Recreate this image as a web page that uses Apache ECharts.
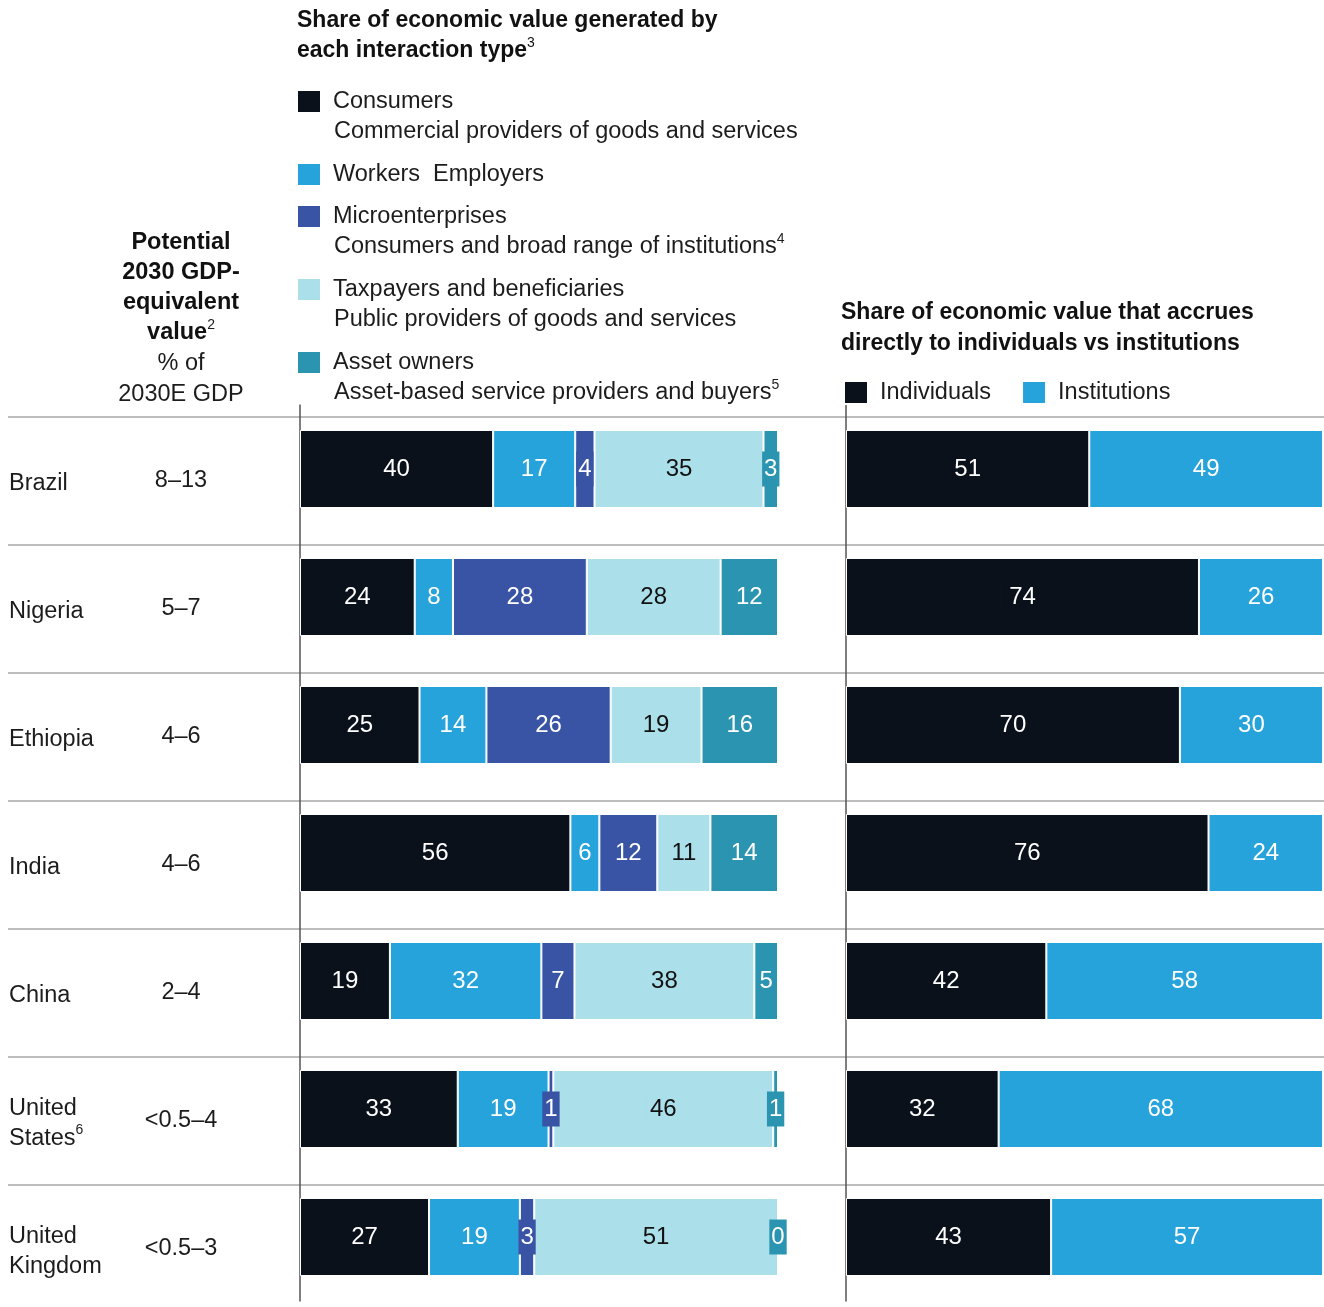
<!DOCTYPE html>
<html><head><meta charset="utf-8">
<script src="https://cdn.jsdelivr.net/npm/echarts@6/dist/echarts.min.js"></script>
<style>html,body{margin:0;padding:0;background:#fff}#c{width:1324px;height:1307px}</style>
</head><body><div id="c"></div>
<script>
// ---- data ----
const countries = ['Brazil','Nigeria','Ethiopia','India','China','United\nStates⁶','United\nKingdom'];
const gdpRanges = ['8–13','5–7','4–6','4–6','2–4','<0.5–4','<0.5–3'];
const interactionTypes = ['Consumers','Workers  Employers','Microenterprises','Taxpayers and beneficiaries','Asset owners'];
const interactionDesc = ['Commercial providers of goods and services','','Consumers and broad range of institutions⁴','Public providers of goods and services','Asset-based service providers and buyers⁵'];
const consumers   = [40,24,25,56,19,33,27];
const workers     = [17, 8,14, 6,32,19,19];
const micro       = [ 4,28,26,12, 7, 1, 3];
const taxpayers   = [35,28,19,11,38,46,51];
const assetOwners = [ 3,12,16,14, 5, 1, 0];
const accrualTypes = ['Individuals','Institutions'];
const individuals  = [51,74,70,76,42,32,43];
const institutions = [49,26,30,24,58,68,57];

// ---- style ----
const FONT = '"Liberation Sans", Arial, sans-serif';
const TXT = '#1c1c1c';
const FS = 23.5;
const colors = ['#0b111b','#27a3dc','#3954a4','#abdfea','#2b94b1'];
const labelColors = ['#fff','#fff','#fff','#111','#fff'];

const SUP = { '⁰':'0','¹':'1','²':'2','³':'3','⁴':'4','⁵':'5','⁶':'6','⁷':'7','⁸':'8','⁹':'9' };
const SUP_RE = /[⁰¹²³⁴⁵⁶⁷⁸⁹]/g;
const supify = (s, tag) => s.replace(SUP_RE, c => '{' + tag + '|' + SUP[c] + '}');

const leftValues = [consumers, workers, micro, taxpayers, assetOwners];
const rowSums = countries.map((_, j) => leftValues.reduce((s, arr) => s + arr[j], 0));

function barSeries(name, vals, color, lblColor, stack, axisIdx, sums) {
  return {
    type: 'bar', name, stack, xAxisIndex: axisIdx, yAxisIndex: axisIdx,
    barWidth: 78,
    data: vals.map((v, j) => ({ value: sums ? v / sums[j] * 100 : v, raw: v })),
    itemStyle: { color, borderColor: '#fff', borderWidth: 1 },
    label: {
      show: true, position: 'inside', color: lblColor, fontFamily: FONT, fontSize: 24,
      backgroundColor: color, padding: [8, 2, 3, 2],
      formatter: p => String(p.data.raw)
    },
    emphasis: { disabled: true },
    silent: true
  };
}

const series = [];
interactionTypes.forEach((n, i) => series.push(barSeries(n, leftValues[i], colors[i], labelColors[i], 'left', 0, rowSums)));
series.push(barSeries(accrualTypes[0], individuals, colors[0], '#fff', 'right', 1, null));
series.push(barSeries(accrualTypes[1], institutions, colors[1], '#fff', 'right', 1, null));

const legendCommon = {
  orient: 'horizontal', padding: 0, itemWidth: 24, itemHeight: 23, icon: 'rect',
  selectedMode: false,
  textStyle: { fontFamily: FONT, fontSize: FS, color: TXT, padding: [0, 0, 0, 7] }
};
const legendTops = [89, 162, 204, 277, 350];
const legends = interactionTypes.map((n, i) => Object.assign({}, legendCommon, { data: [n], left: 296, top: legendTops[i] }));
legends.push(Object.assign({}, legendCommon, { data: accrualTypes, left: 843, top: 380, itemGap: 30 }));

const descY = [132, null, 247, 320, 393];
const graphics = [];
interactionDesc.forEach((d, i) => {
  if (d) graphics.push({ type: 'text', x: 334, y: descY[i] - 15, silent: true,
    style: { text: supify(d, 's'), fontFamily: FONT, fontSize: FS, fill: TXT, lineHeight: 30,
      rich: { s: { fontFamily: FONT, fontSize: 14, lineHeight: 20, verticalAlign: 'top', fill: TXT } } } });
});
graphics.push({ type: 'text', x: 297, y: 6, silent: true,
  style: { text: '{b|Share of economic value generated by}\n{b|each interaction type}{s|3}',
    fontFamily: FONT, fill: '#111',
    rich: { b: { fontFamily: FONT, fontSize: 23, fontWeight: 'bold', lineHeight: 30, fill: '#111' },
            s: { fontFamily: FONT, fontSize: 14, lineHeight: 20, verticalAlign: 'top', fill: '#111' } } } });
graphics.push({ type: 'text', x: 841, y: 297, silent: true,
  style: { text: 'Share of economic value that accrues\ndirectly to individuals vs institutions', fontFamily: FONT, fontSize: 23, fontWeight: 'bold', lineHeight: 31, fill: '#111' } });
graphics.push({ type: 'text', x: 181, y: 228, silent: true,
  style: { text: '{b|Potential}\n{b|2030 GDP-}\n{b|equivalent}\n{b|value}{s|2}\n{r|% of}\n{r|2030E GDP}',
    textAlign: 'center', fontFamily: FONT, fill: TXT,
    rich: { b: { fontFamily: FONT, fontSize: FS, fontWeight: 'bold', lineHeight: 30, fill: '#111' },
            s: { fontFamily: FONT, fontSize: 14, lineHeight: 20, verticalAlign: 'top', fill: TXT },
            r: { fontFamily: FONT, fontSize: FS, lineHeight: 31, fill: TXT } } } });

const countryFormatter = v => v.split('\n').map(l => {
  const sups = l.match(SUP_RE);
  return '{t|' + l.replace(SUP_RE, '') + '}' + (sups ? supify(sups.join(''), 's') : '');
}).join('\n');

const chart = echarts.init(document.getElementById('c'), null, { renderer: 'canvas' });
chart.setOption({
  animation: false,
  backgroundColor: '#fff',
  textStyle: { fontFamily: FONT },
  legend: legends,
  graphic: graphics,
  grid: [
    { left: 300, top: 405, width: 478, height: 896, outerBoundsMode: 'none' },
    { left: 846, top: 405, width: 477, height: 896, outerBoundsMode: 'none' },
    { left: 8, top: 417, right: 0, height: 896, outerBoundsMode: 'none' }
  ],
  xAxis: [
    { type: 'value', gridIndex: 0, min: 0, max: 100, show: false },
    { type: 'value', gridIndex: 1, min: 0, max: 100, show: false },
    { type: 'value', gridIndex: 2, min: 0, max: 1, show: false }
  ],
  yAxis: [
    { type: 'category', gridIndex: 0, data: countries, inverse: true, offset: 2,
      axisLine: { show: true, lineStyle: { color: '#555', width: 1.5 } },
      axisTick: { show: false }, axisLabel: { show: false }, splitLine: { show: false } },
    { type: 'category', gridIndex: 1, data: countries, inverse: true, offset: 1,
      axisLine: { show: true, lineStyle: { color: '#555', width: 1.5 } },
      axisTick: { show: false }, axisLabel: { show: false }, splitLine: { show: false } },
    { type: 'category', gridIndex: 2, position: 'left', data: countries, inverse: true,
      axisLine: { show: false }, axisTick: { show: false },
      splitLine: { show: true, lineStyle: { color: '#bdbdbd', width: 2 } },
      axisLabel: { inside: true, margin: 1, align: 'left', fontFamily: FONT, fontSize: FS, color: TXT, lineHeight: 30,
        padding: [5, 0, 0, 0],
        formatter: countryFormatter,
        rich: { t: { fontFamily: FONT, fontSize: FS, color: TXT, lineHeight: 30 },
                s: { fontFamily: FONT, fontSize: 14, color: TXT, lineHeight: 20, verticalAlign: 'top' } } } },
    { type: 'category', gridIndex: 2, position: 'left', offset: 0, data: gdpRanges, inverse: true,
      axisLine: { show: false }, axisTick: { show: false }, splitLine: { show: false },
      axisLabel: { inside: true, margin: 173, align: 'center', fontFamily: FONT, fontSize: FS, color: TXT,
        padding: [4, 0, 0, 0] } }
  ],
  series
});
</script>
</body></html>
